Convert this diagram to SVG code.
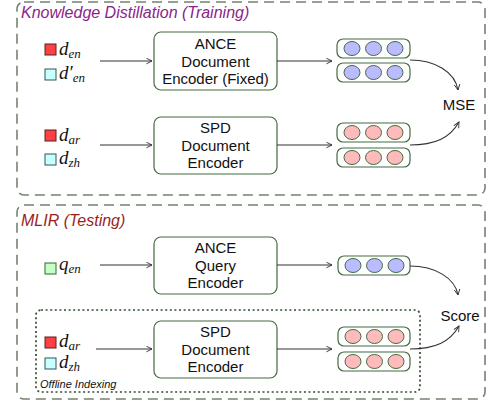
<svg xmlns="http://www.w3.org/2000/svg" width="487" height="402" viewBox="0 0 487 402">
<defs>
<marker id="ah" viewBox="0 0 10 10" refX="9" refY="5" markerWidth="7" markerHeight="7" orient="auto" markerUnits="userSpaceOnUse">
<path d="M1,1 L9,5 L1,9" fill="none" stroke="#333" stroke-width="1.3"/>
</marker>
<style>
.frame{fill:none;stroke:#76836f;stroke-width:1.6;stroke-dasharray:10 6}
.dot{fill:none;stroke:#2f4f2c;stroke-width:1.7;stroke-dasharray:2 2.6}
.box{fill:#fff;stroke:#456b41;stroke-width:1.2}
.vec{fill:#fff;stroke:#456b41;stroke-width:1.2}
.b{fill:#bbbbff;stroke:#456b41;stroke-width:1}
.p{fill:#ffbbbb;stroke:#456b41;stroke-width:1}
.lbl{font-family:"Liberation Sans",Arial,sans-serif;font-size:15px;fill:#111;text-anchor:middle}
.m{font-family:"Liberation Serif","Times New Roman",serif;font-style:italic;font-size:19px;fill:#111}
.s{font-size:13px}
.red{fill:#ff4040;stroke:#552222;stroke-width:1}
.cy{fill:#c8ffff;stroke:#335555;stroke-width:1}
.gr{fill:#c4ffc4;stroke:#336633;stroke-width:1}
.c{fill:none;stroke:#333;stroke-width:1.1}
.title{font-family:"Liberation Sans",Arial,sans-serif;font-style:italic;font-size:16px}
</style>
</defs>

<g id="training">
<rect class="frame" x="17" y="2" width="468" height="193" rx="7"/>
<text class="title" x="21" y="18" fill="#8a248a">Knowledge Distillation (Training)</text>
</g>
<g id="testing">
<rect class="frame" x="17" y="205" width="468" height="194" rx="7"/>
<text class="title" x="21" y="226" fill="#9a1e1e">MLIR (Testing)</text>
</g>
<g id="offline">
<rect class="dot" x="36" y="310" width="384" height="82" rx="5"/>
<text x="40" y="388" font-family="'Liberation Sans',Arial,sans-serif" font-style="italic" font-size="11" fill="#111">Offline Indexing</text>
</g>

<g id="inputs1">
<rect class="red" x="45" y="44" width="11" height="11"/>
<text class="m" x="59" y="55">d<tspan class="s" dy="3">en</tspan></text>
<rect class="cy" x="45" y="69" width="11" height="11"/>
<text class="m" x="59" y="79">d′<tspan class="s" dy="3">en</tspan></text>
</g>
<g id="inputs2">
<rect class="red" x="45" y="130" width="11" height="11"/>
<text class="m" x="59" y="141">d<tspan class="s" dy="3">ar</tspan></text>
<rect class="cy" x="45" y="154" width="11" height="11"/>
<text class="m" x="59" y="164">d<tspan class="s" dy="3">zh</tspan></text>
</g>
<g id="inputs3">
<rect class="gr" x="45" y="263" width="11" height="11"/>
<text class="m" x="59" y="270">q<tspan class="s" dy="3">en</tspan></text>
</g>
<g id="inputs4">
<rect class="red" x="45" y="337" width="11" height="11"/>
<text class="m" x="59" y="347">d<tspan class="s" dy="3">ar</tspan></text>
<rect class="cy" x="45" y="358" width="11" height="11"/>
<text class="m" x="59" y="368">d<tspan class="s" dy="3">zh</tspan></text>
</g>

<g id="ance-doc">
<rect class="box" x="154" y="32" width="123" height="58" rx="7"/>
<text class="lbl" x="215.5" y="49">ANCE</text>
<text class="lbl" x="215.5" y="67">Document</text>
<text class="lbl" x="215.5" y="84">Encoder (Fixed)</text>
</g>
<g id="spd-doc1">
<rect class="box" x="154" y="117" width="123" height="57" rx="7"/>
<text class="lbl" x="215.5" y="133">SPD</text>
<text class="lbl" x="215.5" y="151">Document</text>
<text class="lbl" x="215.5" y="168">Encoder</text>
</g>
<g id="ance-query">
<rect class="box" x="154" y="237" width="123" height="57" rx="7"/>
<text class="lbl" x="215.5" y="253">ANCE</text>
<text class="lbl" x="215.5" y="271">Query</text>
<text class="lbl" x="215.5" y="288">Encoder</text>
</g>
<g id="spd-doc2">
<rect class="box" x="154" y="321" width="123" height="57" rx="7"/>
<text class="lbl" x="215.5" y="337">SPD</text>
<text class="lbl" x="215.5" y="355">Document</text>
<text class="lbl" x="215.5" y="372">Encoder</text>
</g>

<g id="vec-ance">
<rect class="vec" x="337" y="39" width="73" height="19" rx="6"/>
<ellipse class="b" cx="352" cy="48.5" rx="8" ry="7"/><ellipse class="b" cx="373.5" cy="48.5" rx="8" ry="7"/><ellipse class="b" cx="395" cy="48.5" rx="8" ry="7"/>
<rect class="vec" x="337" y="63" width="73" height="19" rx="6"/>
<ellipse class="b" cx="352" cy="72.5" rx="8" ry="7"/><ellipse class="b" cx="373.5" cy="72.5" rx="8" ry="7"/><ellipse class="b" cx="395" cy="72.5" rx="8" ry="7"/>
</g>
<g id="vec-spd1">
<rect class="vec" x="337" y="123" width="73" height="19" rx="6"/>
<ellipse class="p" cx="352" cy="132.5" rx="8" ry="7"/><ellipse class="p" cx="373.5" cy="132.5" rx="8" ry="7"/><ellipse class="p" cx="395" cy="132.5" rx="8" ry="7"/>
<rect class="vec" x="337" y="148" width="73" height="19" rx="6"/>
<ellipse class="p" cx="352" cy="157.5" rx="8" ry="7"/><ellipse class="p" cx="373.5" cy="157.5" rx="8" ry="7"/><ellipse class="p" cx="395" cy="157.5" rx="8" ry="7"/>
</g>
<g id="vec-query">
<rect class="vec" x="338" y="256" width="72" height="19" rx="6"/>
<ellipse class="b" cx="353" cy="265.5" rx="8" ry="7"/><ellipse class="b" cx="374.5" cy="265.5" rx="8" ry="7"/><ellipse class="b" cx="396" cy="265.5" rx="8" ry="7"/>
</g>
<g id="vec-spd2">
<rect class="vec" x="338" y="327" width="72" height="19" rx="6"/>
<ellipse class="p" cx="353" cy="336.5" rx="8" ry="7"/><ellipse class="p" cx="374.5" cy="336.5" rx="8" ry="7"/><ellipse class="p" cx="396" cy="336.5" rx="8" ry="7"/>
<rect class="vec" x="338" y="352" width="72" height="19" rx="6"/>
<ellipse class="p" cx="353" cy="361.5" rx="8" ry="7"/><ellipse class="p" cx="374.5" cy="361.5" rx="8" ry="7"/><ellipse class="p" cx="396" cy="361.5" rx="8" ry="7"/>
</g>

<g id="mse">
<text class="lbl" x="459" y="110">MSE</text>
</g>
<g id="score">
<text class="lbl" x="460" y="321">Score</text>
</g>

<g id="connectors">
<line class="c" x1="100" y1="61" x2="152" y2="61" marker-end="url(#ah)"/>
<line class="c" x1="100" y1="145" x2="152" y2="145" marker-end="url(#ah)"/>
<line class="c" x1="100" y1="265" x2="152" y2="265" marker-end="url(#ah)"/>
<line class="c" x1="96" y1="349" x2="152" y2="349" marker-end="url(#ah)"/>
<line class="c" x1="277" y1="61" x2="332" y2="61" marker-end="url(#ah)"/>
<line class="c" x1="277" y1="145" x2="332" y2="145" marker-end="url(#ah)"/>
<line class="c" x1="277" y1="265" x2="332" y2="265" marker-end="url(#ah)"/>
<line class="c" x1="277" y1="349" x2="332" y2="349" marker-end="url(#ah)"/>
<path class="c" d="M410,60 C435,60 455,72 458,90" marker-end="url(#ah)"/>
<path class="c" d="M410,145 C435,145 450,138 459,122" marker-end="url(#ah)"/>
<path class="c" d="M410,266 C435,266 455,278 458,295" marker-end="url(#ah)"/>
<path class="c" d="M410,349 C435,349 450,342 459,326" marker-end="url(#ah)"/>
</g>
</svg>
